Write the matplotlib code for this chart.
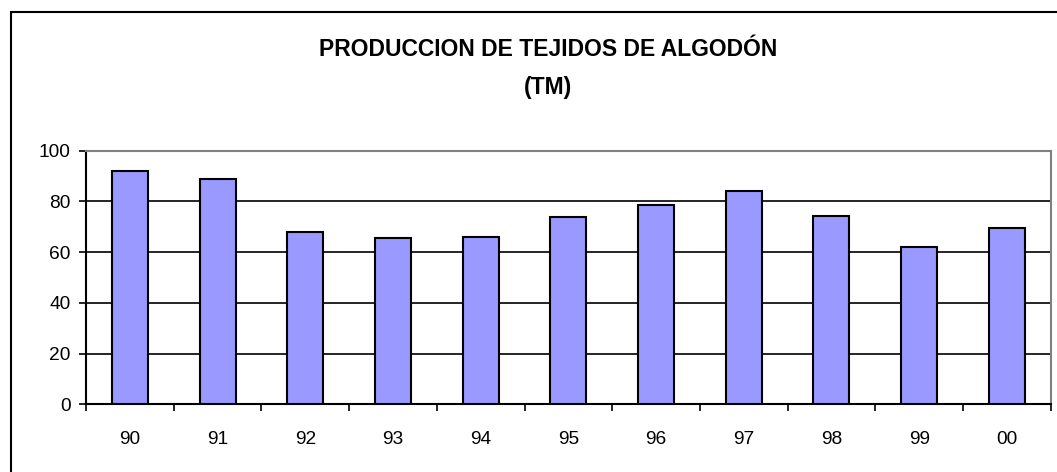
import numpy as np
import matplotlib.pyplot as plt
from matplotlib.patches import Rectangle

plt.rcParams['font.family'] = ['Liberation Sans', 'DejaVu Sans']

years = ['90', '91', '92', '93', '94', '95', '96', '97', '98', '99', '00']
produccion = [92.1, 89.0, 67.8, 65.4, 66.1, 74.0, 78.7, 84.2, 74.1, 62.1, 69.4]

fig = plt.figure(figsize=(10.57, 4.72), dpi=100)
ax = fig.add_axes([86/1057, 67.7/472, (1050.7-86)/1057, (404.3-150.7)/472])

x = np.arange(len(years))
ax.bar(x, produccion, 0.41, color='#9999FF', edgecolor='black', linewidth=1.5, zorder=3)

ax.set_xlim(-0.5, len(years) - 0.5)
ax.set_ylim(0, 100)
ax.set_yticks([0, 20, 40, 60, 80, 100])
for v in [20, 40, 60, 80]:
    ax.axhline(v, color='black', linewidth=1.2, zorder=1)

# ticks between categories, labels at centres
ax.set_xticks(np.arange(-0.5, len(years), 1.0))
ax.set_xticklabels([])
ax.set_xticks(x, minor=True)
ax.set_xticklabels(years, minor=True)
ax.tick_params(axis='x', which='major', direction='out', length=5, width=1.2, color='black')
ax.tick_params(axis='x', which='minor', length=0, pad=19, labelsize=13.8)
ax.tick_params(axis='y', direction='out', length=5, width=1.2, pad=6, labelsize=13.8)

ax.spines['left'].set_color('black')
ax.spines['bottom'].set_color('black')
ax.spines['top'].set_color('#808080')
ax.spines['right'].set_color('#808080')
for s in ax.spines.values():
    s.set_linewidth(1.5)

fig.text(548/1057, 1 - 49/472, 'PRODUCCION DE TEJIDOS DE ALGODÓN', ha='center', va='center',
         fontsize=16.5, fontweight='bold')
fig.text(548/1057, 1 - 87/472, '(TM)', ha='center', va='center',
         fontsize=16.5, fontweight='bold')

# outer chart frame (only left and top visible in the image)
fig.patches.append(Rectangle((10.5/1057, -0.1), 1.2, 1 - 12/472 + 0.1, transform=fig.transFigure,
                             fill=False, edgecolor='black', linewidth=1.5))

fig.savefig('out.png', dpi=100)
